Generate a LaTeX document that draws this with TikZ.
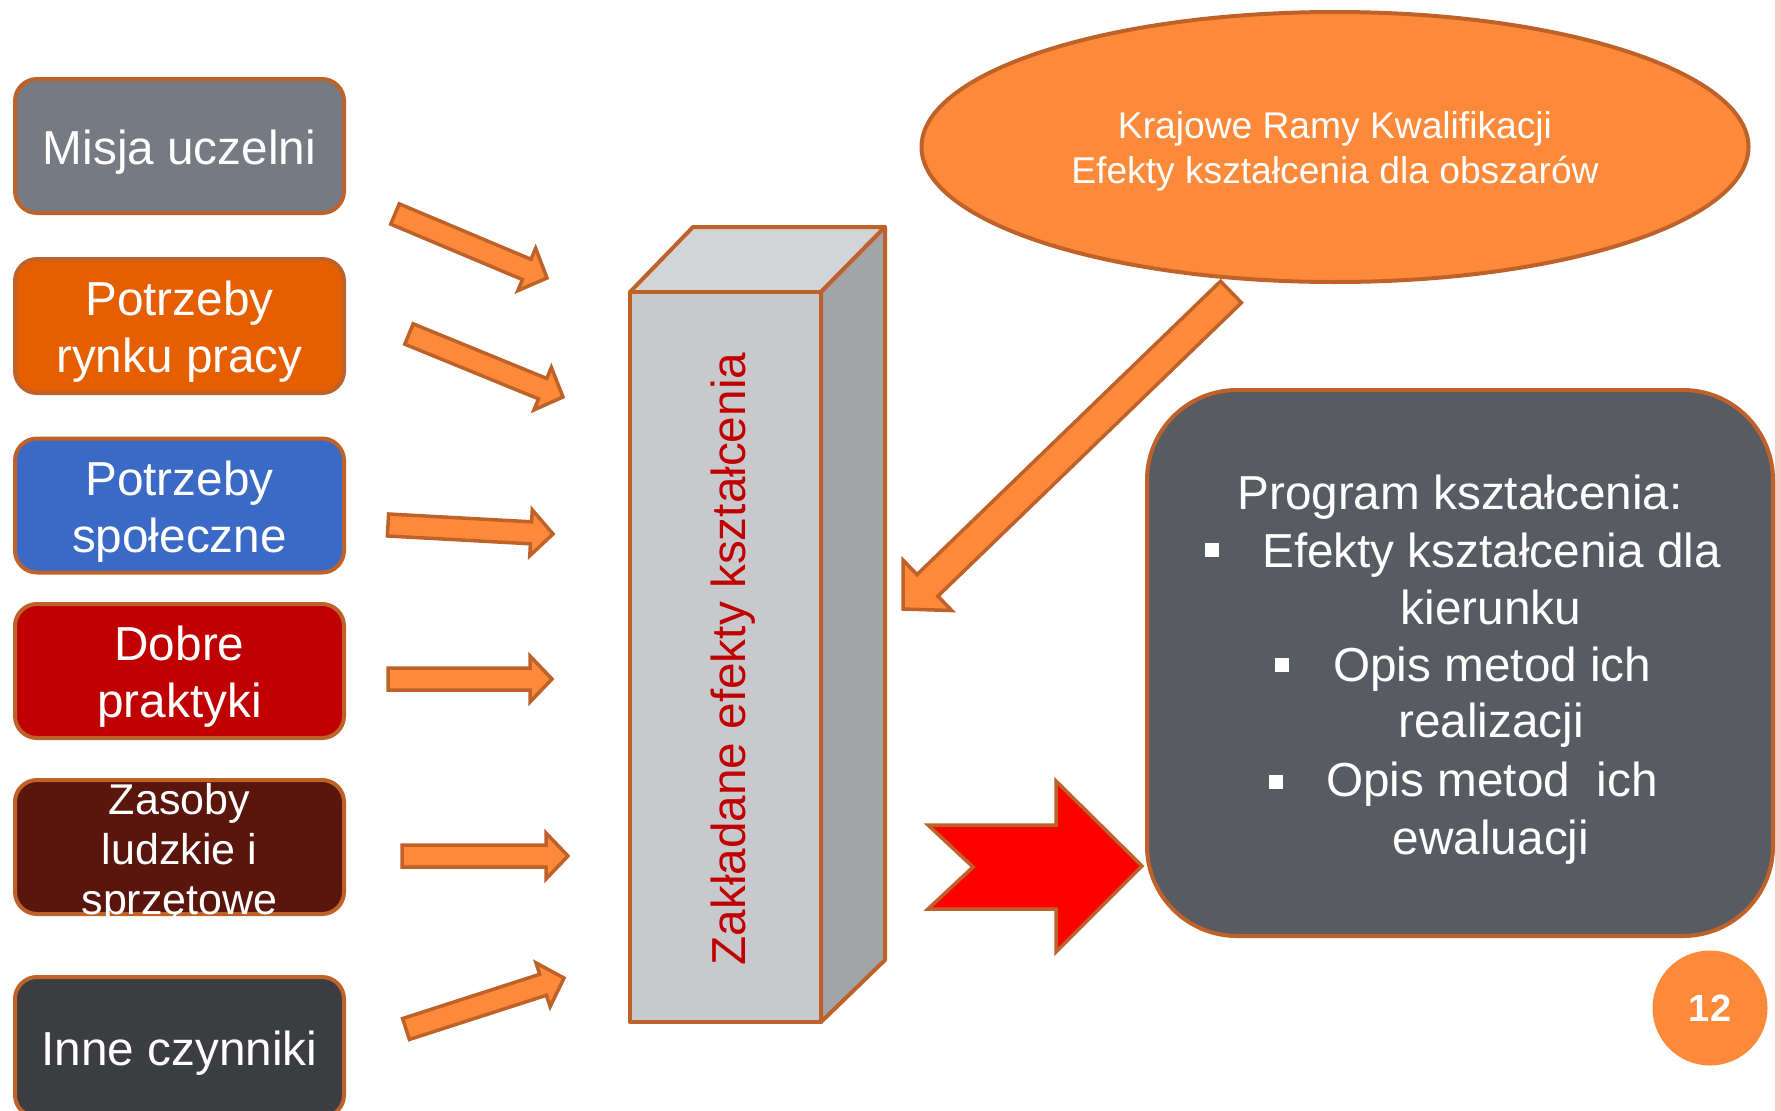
\documentclass[tikz,border=0pt]{standalone}
\usepackage{fontspec}
\setmainfont{Liberation Sans}
\usetikzlibrary{calc,shapes.geometric}

\definecolor{edge}{HTML}{BE622A}
\definecolor{arrfill}{HTML}{FD8A3A}
\definecolor{boxgray}{HTML}{767A83}
\definecolor{boxorange}{HTML}{E55E00}
\definecolor{boxblue}{HTML}{3A6AC6}
\definecolor{boxred}{HTML}{C00000}
\definecolor{boxbrown}{HTML}{5A160C}
\definecolor{boxdark}{HTML}{3C3D41}
\definecolor{progfill}{HTML}{595B63}
\definecolor{colfront}{HTML}{C8C9CD}
\definecolor{coltop}{HTML}{D3D4D8}
\definecolor{colside}{HTML}{A3A4A8}
\definecolor{stripe}{HTML}{F8CCC6}

\tikzset{
  leftbox/.style={rectangle, rounded corners=22pt, draw=edge, line width=4pt,
    minimum width=329pt},
  boxtext/.style={text=white, align=center, font=\fontsize{47.7}{57}\selectfont},
  blockarr/.style={fill=arrfill, draw=edge, line width=3.5pt},
  progtext/.style={text=white, inner sep=0pt, font=\fontsize{47.7}{57}\selectfont},
  edged/.style={draw=edge, line width=4pt, line join=round}
}

% tail, tip, half shaft, half head, head length
\newcommand\blockarrow[5]{%
  \coordinate (hb) at ($(#2)!#5!(#1)$);
  \draw[blockarr] ($(#1)!#3!90:(#2)$) -- ($(hb)!#3!-90:(#1)$) -- ($(hb)!#4!-90:(#1)$) -- (#2)
    -- ($(hb)!#4!90:(#1)$) -- ($(hb)!#3!90:(#1)$) -- ($(#1)!#3!-90:(#2)$) -- cycle;
}

\begin{document}
\begin{tikzpicture}[x=1pt,y=-1pt]

\useasboundingbox (0,0) rectangle (1781,1111);
\fill[white] (0,0) rectangle (1781,1111);
\clip (0,0) rectangle (1781,1111);

\def\colfront{(630,292) rectangle (821,1022)}

\foreach \name/\y/\h/\col/\txt in {misja/146/134/boxgray/{Misja uczelni},
    rynek/326/134/boxorange/{Potrzeby\\rynku pracy},
    spol/505.5/134/boxblue/{Potrzeby\\społeczne},
    dobre/671/134/boxred/{Dobre\\praktyki},
    inne/1047/140/boxdark/{Inne czynniki}}{
  \node[leftbox, fill=\col, minimum height=\h pt] (\name) at (179.5,\y) {};
  \node[boxtext] (\name txt) at ($(\name)+(0,6)$) {\txt};
}

\node[leftbox, fill=boxbrown, minimum height=134pt] (zasoby) at (179.5,847) {};
\node[boxtext, font=\fontsize{43}{50}\selectfont] (zasobytxt) at ($(zasoby)+(0,6)$) {Zasoby\\ludzkie i\\sprzętowe};

\foreach \i/\tx/\ty/\px/\py in {1/395/214/547/278, 2/409/334/563/397, 3/388/525/553/534,
    4/388/679/552/679, 5/402/856/568/856, 6/406/1029/564/978}{
  \coordinate (in\i) at (\tx,\ty);
  \coordinate (to\i) at (\px,\py);
  \blockarrow{in\i}{to\i}{11pt}{23pt}{22pt}
}

\filldraw[fill=coltop, edged] (630,292) -- (693,227) -- (885,227) -- (821,292) -- cycle;
\filldraw[fill=colside, edged] (821,292) -- (885,227) -- (885,960) -- (821,1022) -- cycle;
\filldraw[fill=colfront, edged] \colfront;
\node[rotate=90, anchor=base, text=boxred, font=\fontsize{47.7}{57}\selectfont] (zakl) at (745,659) {Zakładane efekty kształcenia};

\node[ellipse, fill=arrfill, edged, minimum width=827pt, minimum height=270pt] (krk) at (1335,147) {};
\node[boxtext, font=\fontsize{37.2}{45}\selectfont] (krktxt) at ($(krk)+(0,4)$) {Krajowe Ramy Kwalifikacji\\Efekty kształcenia dla obszarów};

\coordinate (krkout) at (1231,292);
\coordinate (krkin) at (903,609);
\blockarrow{krkout}{krkin}{15pt}{35pt}{34pt}

\fill[stripe] (1775,0) rectangle (1781,1111);

\node[rectangle, rounded corners=90pt, fill=progfill, edged, minimum width=626pt, minimum height=546pt] (prog) at (1460,663) {};
\node[progtext, anchor=base] (progtitle) at (1460,509) {Program kształcenia:};
\node[progtext, anchor=base west] (eff) at (1262,567) {Efekty kształcenia dla};
\node[progtext, anchor=base] (kier) at (1491,624) {kierunku};
\node[progtext, anchor=base west] (opis1) at (1333,681) {Opis metod ich};
\node[progtext, anchor=base] (real) at (1491,737) {realizacji};
\node[progtext, anchor=base west] (opis2) at (1326,796) {Opis metod~ ich};
\node[progtext, anchor=base] (ewal) at (1491,854) {ewaluacji};
\foreach \bx/\by in {1212/550, 1282/665, 1276/782}
  \fill[white] (\bx-7,\by-7) rectangle (\bx+7,\by+7);

\draw[fill=red, draw=edge, line width=3.5pt] (928,825) -- (1056,825) -- (1056,781) -- (1142,866)
  -- (1056,952) -- (1056,909) -- (928,909) -- (973,867) -- cycle;

\node[circle, fill=arrfill, minimum size=115pt, inner sep=0pt, text=white,
  font=\bfseries\fontsize{38}{45}\selectfont] (pagenum) at (1710,1008) {12};

\end{tikzpicture}
\end{document}
